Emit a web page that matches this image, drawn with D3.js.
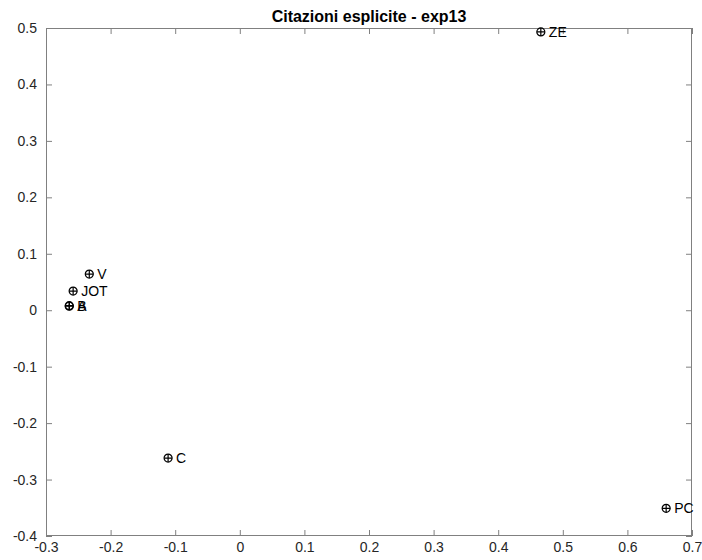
<!DOCTYPE html>
<html><head><meta charset="utf-8">
<script src="https://cdn.jsdelivr.net/npm/d3@7"></script>
<style>body{margin:0;background:#fff;} svg{display:block;font-family:"Liberation Sans",Arial,Helvetica,sans-serif;}</style>
</head><body>
<script>
const labels = ["ZE","V","JOT","B","A","C","PC"];
const xs = [0.466,-0.233,-0.258,-0.264,-0.264,-0.111,0.660];
const ys = [0.493,0.064,0.034,0.008,0.007,-0.262,-0.351];
const xTicks = [-0.3,-0.2,-0.1,0,0.1,0.2,0.3,0.4,0.5,0.6,0.7];
const yTicks = [-0.4,-0.3,-0.2,-0.1,0,0.1,0.2,0.3,0.4,0.5];
const title = "Citazioni esplicite - exp13";

const W=702,H=560, L=46,R=692,T=28,B=536;
const svg=d3.select("body").append("svg").attr("width",W).attr("height",H);
const x=d3.scaleLinear().domain([-0.3,0.7]).range([L,R]);
const y=d3.scaleLinear().domain([-0.4,0.5]).range([B,T]);
const axCol="#808080", txtCol="#262626";
const fmt=d=>d===0?"0":String(+d.toFixed(1));

function style(g){
  g.select(".domain").remove();
  g.selectAll(".tick line").attr("stroke",axCol);
  g.selectAll(".tick text").attr("fill",txtCol).attr("font-size",14);
}
svg.append("g").attr("transform",`translate(0,${B})`).call(d3.axisBottom(x).tickValues(xTicks).tickFormat(fmt).tickSizeInner(-6).tickPadding(6)).call(style);
svg.append("g").attr("transform",`translate(0,${T})`).call(d3.axisTop(x).tickValues(xTicks).tickFormat("").tickSizeInner(-6)).call(style);
svg.append("g").attr("transform",`translate(${L},0)`).call(d3.axisLeft(y).tickValues(yTicks).tickFormat(fmt).tickSizeInner(-6).tickPadding(9)).call(style);
svg.append("g").attr("transform",`translate(${R},0)`).call(d3.axisRight(y).tickValues(yTicks).tickFormat("").tickSizeInner(-6)).call(style);
svg.append("rect").attr("x",L+0.5).attr("y",T+0.5).attr("width",R-L-1).attr("height",B-T-1).attr("fill","none").attr("stroke",axCol).attr("stroke-width",1);

svg.append("text").attr("x",(L+R)/2).attr("y",T-6).attr("text-anchor","middle").attr("font-weight","bold").attr("font-size",16).attr("fill","#000").text(title);

const pts=svg.append("g").selectAll("g").data(labels.map((l,i)=>({l,x:xs[i],y:ys[i]}))).join("g")
  .attr("transform",d=>`translate(${x(d.x)},${y(d.y)})`);
pts.append("circle").attr("r",4).attr("fill","none").attr("stroke","#000").attr("stroke-width",1.2);
pts.append("path").attr("d","M-4,0H4M0,-4V4").attr("stroke","#000").attr("stroke-width",1.2);
pts.append("text").attr("x",8).attr("dy","0.36em").attr("font-size",14).attr("fill","#000").text(d=>d.l);
</script>
</body></html>
